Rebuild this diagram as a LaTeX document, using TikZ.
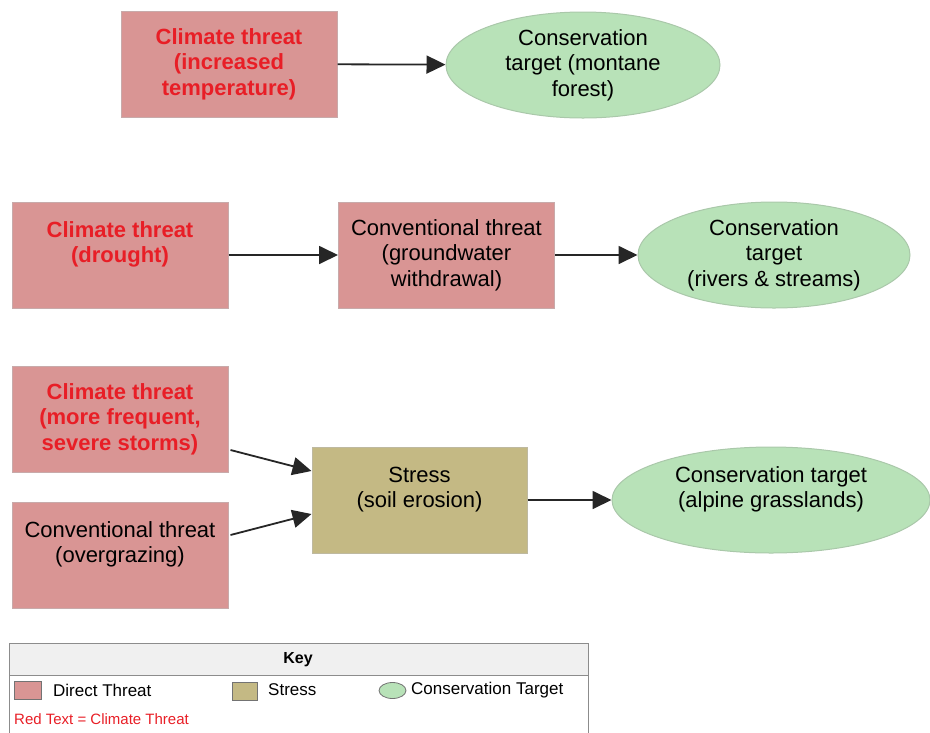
\documentclass[tikz,border=0pt]{standalone}
\usepackage{fontspec}
\setmainfont{Liberation Sans}
\usetikzlibrary{shapes.geometric,arrows.meta,calc}
\definecolor{threatfill}{RGB}{217,149,148}
\definecolor{threatline}{RGB}{200,170,170}
\definecolor{stressfill}{RGB}{196,185,132}
\definecolor{stressline}{RGB}{190,185,160}
\definecolor{targetfill}{RGB}{184,226,184}
\definecolor{targetline}{RGB}{170,200,170}
\definecolor{climred}{RGB}{232,30,38}
\definecolor{keyhead}{RGB}{240,240,240}
\tikzset{
  base/.style={inner sep=0pt, align=center, font=\fontsize{22}{25.5}\selectfont},
  threatbox/.style={base, rectangle, fill=threatfill, draw=threatline, line width=1pt, minimum width=216pt, minimum height=106pt},
  climtext/.style={text=climred, font=\fontsize{22}{25.5}\selectfont\bfseries},
  stressbox/.style={base, rectangle, fill=stressfill, draw=stressline, line width=1pt, minimum width=215pt, minimum height=106pt},
  target/.style={base, ellipse, fill=targetfill, draw=targetline, line width=1pt, minimum height=106pt},
  link/.style={draw=black!85, line width=1.8pt, -{Triangle[length=19pt,width=18pt]}},
  keytext/.style={inner sep=0pt, anchor=west, font=\fontsize{17}{20}\selectfont},
}
\begin{document}
\begin{tikzpicture}[x=1pt,y=-1pt]
\useasboundingbox (0,0) rectangle (930,732);
% row 1
\node[threatbox, climtext] (c1) at (229,64) {Climate threat\\(increased\\temperature)};
\node[target, minimum width=274pt] (t1) at (583,65) {Conservation\\target (montane\\forest)};
\draw[link] (c1) -- (t1);
% row 2
\node[threatbox, climtext] (c2) at (120,255) {Climate threat\\(drought)\\\mbox{}};
\node[threatbox] (v2) at (446.5,255) {Conventional threat\\(groundwater\\withdrawal)};
\node[target, minimum width=272pt] (t2) at (774,255) {Conservation\\target\\(rivers \& streams)};
\draw[link] (c2) -- (v2);
\draw[link] (v2) -- (t2);
% row 3
\node[threatbox, climtext] (c3) at (120,419) {Climate threat\\(more frequent,\\severe storms)};
\node[threatbox] (v3) at (120,555) {Conventional threat\\(overgrazing)\\\mbox{}};
\node[stressbox] (s3) at (419.5,500) {Stress\\(soil erosion)\\\mbox{}};
\node[target, minimum width=318pt] (t3) at (771,500) {Conservation target\\(alpine grasslands)\\\mbox{}};
\draw[link] ($(c3.east)+(2,31)$) -- ($(s3.west)+(0,-29)$);
\draw[link] ($(v3.east)+(2,-20)$) -- ($(s3.west)+(0,14)$);
\draw[link] (s3) -- (t3);
% key
\fill[keyhead] (9,643) rectangle (588,675);
\draw[black!45, line width=1pt] (9,740) -- (9,643) -- (588,643) -- (588,740);
\draw[black!45, line width=1pt] (9,675) -- (588,675);
\node[inner sep=0pt, font=\fontsize{16}{19}\selectfont\bfseries] (keyt) at (298,660) {Key};
\node[rectangle, fill=threatfill, draw=black!55, line width=0.8pt, minimum width=27pt, minimum height=18pt, inner sep=0pt] (k1) at (28,690) {};
\node[keytext] (k1t) at (53,690) {Direct Threat};
\node[rectangle, fill=stressfill, draw=black!55, line width=0.8pt, minimum width=25pt, minimum height=18pt, inner sep=0pt] (k2) at (244.5,691) {};
\node[keytext] (k2t) at (268,690) {Stress};
\node[ellipse, fill=targetfill, draw=black!55, line width=0.8pt, minimum width=27pt, minimum height=16pt, inner sep=0pt] (k3) at (392.5,690.5) {};
\node[keytext] (k3t) at (411,690) {Conservation Target};
\node[inner sep=0pt, anchor=west, text=climred, font=\fontsize{15}{18}\selectfont] (k4) at (14,719) {Red Text = Climate Threat};
\end{tikzpicture}
\end{document}
